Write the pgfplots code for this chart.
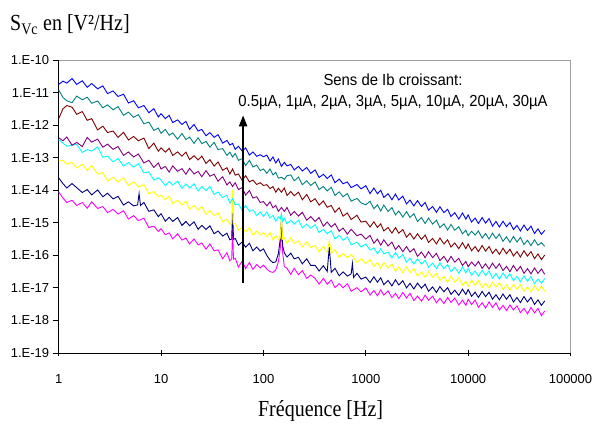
\documentclass[border=0pt]{standalone}
\usepackage{pgfplots}
\pgfplotsset{compat=1.18}
\usetikzlibrary{arrows.meta}
\usepackage{fontspec}
\setmainfont{Liberation Sans}
\newfontfamily\titlefont[FakeStretch=0.87]{Liberation Serif}
\newfontfamily\legfont[FakeStretch=0.93]{Liberation Sans}
\definecolor{cblue}{RGB}{0,0,255}
\definecolor{cteal}{RGB}{0,128,128}
\definecolor{cmaroon}{RGB}{128,0,0}
\definecolor{cpurple}{RGB}{128,0,128}
\definecolor{ccyan}{RGB}{0,255,255}
\definecolor{cyellow}{RGB}{255,255,0}
\definecolor{cnavy}{RGB}{0,0,128}
\definecolor{cmagenta}{RGB}{255,0,255}
\definecolor{frame}{RGB}{160,160,160}
\begin{document}
\begin{tikzpicture}
\useasboundingbox (-58.7bp,-72bp) rectangle (535.3bp,353bp);
\begin{axis}[
  at={(0,0)}, anchor=south west,
  scale only axis, width=511.8bp, height=293bp,
  xmode=log, ymode=log,
  xmin=1, xmax=100000, ymin=1e-19, ymax=1e-10,
  axis x line*=bottom, axis y line*=left,
  axis line style={black, line width=0.8bp},
  xtick={1,10,100,1000,10000,100000},
  xticklabels={1,10,100,1000,10000,100000},
  ytick={1e-19,1e-18,1e-17,1e-16,1e-15,1e-14,1e-13,1e-12,1e-11,1e-10},
  yticklabels={1.E-19,1.E-18,1.E-17,1.E-16,1.E-15,1.E-14,1.E-13,1.E-12,1.E-11,1.E-10},
  xminorticks=false, yminorticks=false,
  major tick length=6bp,
  xtick align=center, ytick align=outside,
  tick style={black, line width=0.8bp},
  ticklabel style={font=\fontsize{13bp}{15bp}\selectfont},
  xticklabel style={yshift=-15bp},
  every axis plot/.append style={line width=0.9bp, mark=none},
  clip=false,
]
\draw[frame, line width=0.9bp] (rel axis cs:0,1) -- (rel axis cs:1,1) -- (rel axis cs:1,0);

% 0.5 uA
\addplot[cmagenta] table[row sep=\\] {
1 8.9e-15\\ 1.1 5.75e-15\\ 1.2 4.2e-15\\ 1.35 4.9e-15\\ 1.5 3.4e-15\\ 1.7 4.2e-15\\ 1.9 2.8e-15\\ 2.1 4.4e-15\\ 2.4 2.75e-15\\ 2.7 3.16e-15\\
3 2.05e-15\\ 3.4 2.6e-15\\ 3.8 1.86e-15\\ 4.3 2.35e-15\\ 4.8 1.3e-15\\ 5.4 1.66e-15\\ 6 1.17e-15\\ 6.8 1.38e-15\\ 7.6 7.1e-16\\ 8.5 7.9e-16\\ 9.4 5.4e-16\\
10 6.6e-16\\ 11 4.3e-16\\ 12 4.9e-16\\ 13 3.2e-16\\ 14.5 4.6e-16\\ 16 2.95e-16\\ 17.5 3.4e-16\\ 19 2.24e-16\\ 21 3.2e-16\\ 23 2.1e-16\\ 25 2.4e-16\\
27.5 1.55e-16\\ 30 2.24e-16\\ 33 1.38e-16\\ 36 1.48e-16\\ 40 7.9e-17\\ 44 1.2e-16\\ 47 6.8e-17\\ 49 7.9e-17\\ 50 6.3e-16\\ 51 7.6e-17\\ 53 8.1e-17\\
57 4.4e-17\\ 62 6.6e-17\\ 67 3.9e-17\\ 73 6.0e-17\\ 79 3.7e-17\\ 86 5.2e-17\\ 93 4.1e-17\\ 100 5.0e-17\\ 108 3.8e-17\\ 116 3.16e-17\\ 124 3.0e-17\\
132 3.55e-17\\ 140 6.3e-17\\ 146 1.58e-16\\ 150 1.0e-15\\ 154 1.26e-16\\ 160 4.5e-17\\ 170 4.0e-17\\ 185 2.6e-17\\ 200 4.0e-17\\ 220 2.55e-17\\
240 3.4e-17\\ 265 1.95e-17\\ 290 2.5e-17\\ 320 1.95e-17\\ 350 1.3e-17\\ 385 1.95e-17\\ 420 1.3e-17\\ 460 1.74e-17\\ 500 1.02e-17\\ 550 1.35e-17\\
600 1.0e-17\\ 660 1.35e-17\\ 720 7.9e-18\\ 820 1.02e-17\\ 900 7.6e-18\\ 1000 1.0e-17\\ 1100 6.0e-18\\ 1200 8.3e-18\\ 1300 5.75e-18\\ 1400 8.7e-18\\
1500 6.0e-18\\ 1650 8.1e-18\\ 1800 5.0e-18\\ 1950 6.8e-18\\ 2100 4.7e-18\\ 2300 7.2e-18\\ 2500 4.9e-18\\ 2700 6.8e-18\\ 2950 4.1e-18\\ 3200 5.6e-18\\
3500 3.9e-18\\ 3800 6.0e-18\\ 4100 4.2e-18\\ 4500 5.6e-18\\ 4900 3.5e-18\\ 5300 4.8e-18\\ 5800 3.3e-18\\ 6300 5.1e-18\\ 6800 3.55e-18\\ 7400 4.9e-18\\
8100 3.0e-18\\ 8800 4.2e-18\\ 9500 2.9e-18\\ 10000 4.5e-18\\ 10800 3.1e-18\\ 11700 4.2e-18\\ 12600 2.55e-18\\ 13700 3.5e-18\\ 14800 2.4e-18\\
16000 3.7e-18\\ 17300 2.5e-18\\ 18700 3.5e-18\\ 20200 2.1e-18\\ 21900 2.9e-18\\ 23700 2.0e-18\\ 25600 3.0e-18\\ 27700 2.1e-18\\ 30000 2.8e-18\\
32400 1.74e-18\\ 35100 2.35e-18\\ 38000 1.6e-18\\ 41100 2.5e-18\\ 44500 1.7e-18\\ 48100 2.35e-18\\ 52000 1.4e-18\\ 56000 1.95e-18\\
};

% 1 uA
\addplot[cnavy] table[row sep=\\] {
1 2.4e-14\\ 1.1 1.6e-14\\ 1.2 1.17e-14\\ 1.35 1.6e-14\\ 1.5 1.2e-14\\ 1.7 8.5e-15\\ 1.9 1.05e-14\\ 2.1 7.2e-15\\ 2.4 1.02e-14\\ 2.7 6.3e-15\\
3 8.1e-15\\ 3.4 5.4e-15\\ 3.8 6.5e-15\\ 4.3 3.5e-15\\ 4.8 4.4e-15\\ 5.4 3.3e-15\\ 5.9 3.55e-15\\ 6.1 7.9e-15\\ 6.3 3.4e-15\\ 6.8 4.2e-15\\
7.6 2.24e-15\\ 8.5 2.5e-15\\ 9.4 1.55e-15\\ 10 1.9e-15\\ 11 1.12e-15\\ 12 1.48e-15\\ 13 1.1e-15\\ 14.5 1.45e-15\\ 16 8.3e-16\\ 17.5 1.1e-15\\
19 8.1e-16\\ 21 1.07e-15\\ 23 6.3e-16\\ 25 8.3e-16\\ 27.5 6.2e-16\\ 30 8.1e-16\\ 33 4.6e-16\\ 36 5.6e-16\\ 40 3.9e-16\\ 44 4.8e-16\\ 47 3.0e-16\\
49 3.16e-16\\ 50 3.16e-15\\ 51 3.1e-16\\ 53 3.3e-16\\ 57 2.05e-16\\ 62 2.55e-16\\ 67 1.78e-16\\ 73 2.35e-16\\ 79 1.38e-16\\ 86 1.8e-16\\ 93 1.35e-16\\
100 1.58e-16\\ 108 1.0e-16\\ 116 7.1e-17\\ 124 6.0e-17\\ 132 6.3e-17\\ 140 1.12e-16\\ 146 3.16e-16\\ 150 1.26e-15\\ 154 2.0e-16\\ 160 1.2e-16\\
170 8.9e-17\\ 185 1.17e-16\\ 200 7.8e-17\\ 220 8.7e-17\\ 240 5.5e-17\\ 265 7.8e-17\\ 290 4.9e-17\\ 320 4.9e-17\\ 350 3.3e-17\\ 385 4.8e-17\\
420 3.2e-17\\ 440 1.78e-16\\ 460 3.0e-17\\ 500 4.0e-17\\ 550 2.35e-17\\ 600 3.1e-17\\ 660 2.3e-17\\ 720 2.7e-17\\ 740 5.6e-17\\ 760 2.1e-17\\
820 2.8e-17\\ 900 1.86e-17\\ 1000 2.15e-17\\ 1100 1.45e-17\\ 1200 2.2e-17\\ 1300 1.5e-17\\ 1400 2.05e-17\\ 1500 1.26e-17\\ 1650 1.7e-17\\
1800 1.15e-17\\ 1950 1.78e-17\\ 2100 1.23e-17\\ 2300 1.66e-17\\ 2500 1.0e-17\\ 2700 1.38e-17\\ 2950 9.3e-18\\ 3200 1.4e-17\\ 3500 9.8e-18\\
3800 1.3e-17\\ 4100 7.9e-18\\ 4500 1.07e-17\\ 4900 7.2e-18\\ 5300 1.1e-17\\ 5800 7.6e-18\\ 6300 1.02e-17\\ 6800 6.3e-18\\ 7400 8.5e-18\\
8100 5.9e-18\\ 8800 9.1e-18\\ 9500 6.3e-18\\ 10000 8.9e-18\\ 10800 5.5e-18\\ 11700 7.4e-18\\ 12600 5.1e-18\\ 13700 7.8e-18\\ 14800 5.4e-18\\
16000 7.4e-18\\ 17300 4.5e-18\\ 18700 6.2e-18\\ 20200 4.3e-18\\ 21900 6.5e-18\\ 23700 4.5e-18\\ 25600 6.2e-18\\ 27700 3.7e-18\\ 30000 5.1e-18\\
32400 3.55e-18\\ 35100 5.4e-18\\ 38000 3.7e-18\\ 41100 5.1e-18\\ 44500 3.1e-18\\ 48100 4.3e-18\\ 52000 2.9e-18\\ 56000 4.0e-18\\
};

% 2 uA
\addplot[cyellow] table[row sep=\\] {
1 7.9e-14\\ 1.1 8.3e-14\\ 1.2 6.3e-14\\ 1.35 7.2e-14\\ 1.5 4.8e-14\\ 1.7 6.3e-14\\ 1.9 4.1e-14\\ 2.1 5.75e-14\\ 2.4 3.1e-14\\ 2.7 3.5e-14\\
3 1.9e-14\\ 3.4 2.5e-14\\ 3.8 1.8e-14\\ 4.3 2.4e-14\\ 4.8 1.4e-14\\ 5.4 1.8e-14\\ 6 1.26e-14\\ 6.8 1.48e-14\\ 7.6 7.8e-15\\ 8.5 9.1e-15\\ 9.4 6.3e-15\\
10 7.1e-15\\ 11 5.1e-15\\ 12 6.6e-15\\ 13 3.9e-15\\ 14.5 4.9e-15\\ 16 3.55e-15\\ 17.5 4.6e-15\\ 19 2.6e-15\\ 21 3.4e-15\\ 23 2.45e-15\\ 25 3.16e-15\\
27.5 1.8e-15\\ 30 2.35e-15\\ 33 1.66e-15\\ 36 2.0e-15\\ 40 1.07e-15\\ 44 1.3e-15\\ 47 9.1e-16\\ 49 9.5e-16\\ 50 1.0e-14\\ 51 8.9e-16\\ 53 9.8e-16\\
57 6.0e-16\\ 62 7.2e-16\\ 67 5.2e-16\\ 73 7.1e-16\\ 79 4.2e-16\\ 86 5.6e-16\\ 93 4.2e-16\\ 100 5.0e-16\\ 108 3.8e-16\\ 116 5.0e-16\\ 124 3.0e-16\\
132 4.1e-16\\ 140 3.0e-16\\ 146 3.3e-16\\ 150 1.78e-15\\ 154 3.16e-16\\ 160 3.5e-16\\ 170 2.35e-16\\ 185 3.5e-16\\ 200 2.35e-16\\ 220 2.75e-16\\
240 1.8e-16\\ 265 2.6e-16\\ 290 1.74e-16\\ 320 2.0e-16\\ 350 1.3e-16\\ 385 1.9e-16\\ 420 1.26e-16\\ 440 2.8e-16\\ 460 1.15e-16\\ 500 1.5e-16\\
550 8.7e-17\\ 600 1.15e-16\\ 660 8.3e-17\\ 720 1.07e-16\\ 820 6.0e-17\\ 900 7.9e-17\\ 1000 5.6e-17\\ 1100 7.4e-17\\ 1200 4.5e-17\\ 1300 6.0e-17\\
1400 4.0e-17\\ 1500 6.0e-17\\ 1650 4.1e-17\\ 1800 5.4e-17\\ 1950 3.2e-17\\ 2100 4.4e-17\\ 2300 2.95e-17\\ 2500 4.4e-17\\ 2700 2.95e-17\\ 2950 3.9e-17\\
3200 2.3e-17\\ 3500 3.1e-17\\ 3800 2.1e-17\\ 4100 3.16e-17\\ 4500 2.1e-17\\ 4900 2.8e-17\\ 5300 1.7e-17\\ 5800 2.24e-17\\ 6300 1.5e-17\\ 6800 2.3e-17\\
7400 1.5e-17\\ 8100 2.05e-17\\ 8800 1.23e-17\\ 9500 1.6e-17\\ 10000 1.12e-17\\ 10800 1.74e-17\\ 11700 1.2e-17\\ 12600 1.66e-17\\ 13700 1.02e-17\\
14800 1.4e-17\\ 16000 9.8e-18\\ 17300 1.5e-17\\ 18700 1.05e-17\\ 20200 1.45e-17\\ 21900 8.9e-18\\ 23700 1.23e-17\\ 25600 8.5e-18\\ 27700 1.3e-17\\
30000 9.1e-18\\ 32400 1.26e-17\\ 35100 7.8e-18\\ 38000 1.07e-17\\ 41100 7.6e-18\\ 44500 1.17e-17\\ 48100 8.1e-18\\ 52000 1.12e-17\\ 56000 7.8e-18\\
};

% 3 uA
\addplot[ccyan] table[row sep=\\] {
1 3.55e-13\\ 1.1 2.8e-13\\ 1.2 2.24e-13\\ 1.35 2.45e-13\\ 1.5 2.55e-13\\ 1.7 1.45e-13\\ 1.9 1.78e-13\\ 2.1 1.58e-13\\ 2.4 2.15e-13\\ 2.7 1.02e-13\\
3 1.12e-13\\ 3.4 7.4e-14\\ 3.8 9.5e-14\\ 4.3 5.5e-14\\ 4.8 7.1e-14\\ 5.4 5.1e-14\\ 6 6.6e-14\\ 6.8 3.4e-14\\ 7.6 3.7e-14\\ 8.5 2.05e-14\\ 9.4 2.4e-14\\
10 2.05e-14\\ 11 1.38e-14\\ 12 1.86e-14\\ 13 1.45e-14\\ 14.5 1.9e-14\\ 16 1.15e-14\\ 17.5 1.55e-14\\ 19 1.17e-14\\ 21 1.58e-14\\ 23 9.5e-15\\ 25 1.3e-14\\
27.5 9.8e-15\\ 30 1.3e-14\\ 33 7.4e-15\\ 36 8.9e-15\\ 40 6.0e-15\\ 44 7.1e-15\\ 47 4.0e-15\\ 50 5.5e-15\\ 53 3.6e-15\\ 57 3.8e-15\\ 62 2.4e-15\\
67 3.4e-15\\ 73 2.24e-15\\ 79 2.5e-15\\ 86 1.66e-15\\ 93 2.15e-15\\ 100 1.58e-15\\ 108 2.15e-15\\ 116 1.4e-15\\ 124 1.7e-15\\ 132 1.12e-15\\
140 1.5e-15\\ 146 1.3e-15\\ 150 1.9e-15\\ 154 1.12e-15\\ 160 1.38e-15\\ 170 9.3e-16\\ 185 1.2e-15\\ 200 9.1e-16\\ 220 1.2e-15\\ 240 7.1e-16\\
265 9.1e-16\\ 290 6.8e-16\\ 320 8.7e-16\\ 350 5.0e-16\\ 385 6.2e-16\\ 420 4.6e-16\\ 460 5.75e-16\\ 500 3.2e-16\\ 550 4.1e-16\\ 600 2.9e-16\\
660 3.7e-16\\ 720 2.1e-16\\ 820 2.55e-16\\ 900 1.8e-16\\ 1000 2.24e-16\\ 1100 1.45e-16\\ 1200 1.7e-16\\ 1300 1.12e-16\\ 1400 1.6e-16\\ 1500 1.1e-16\\
1650 1.26e-16\\ 1800 8.3e-17\\ 1950 1.23e-16\\ 2100 8.1e-17\\ 2300 1.07e-16\\ 2500 6.2e-17\\ 2700 8.1e-17\\ 2950 5.4e-17\\ 3200 7.8e-17\\ 3500 5.4e-17\\
3800 7.1e-17\\ 4100 4.3e-17\\ 4500 5.75e-17\\ 4900 3.9e-17\\ 5300 5.9e-17\\ 5800 3.9e-17\\ 6300 5.2e-17\\ 6800 3.16e-17\\ 7400 4.3e-17\\ 8100 2.8e-17\\
8800 4.4e-17\\ 9500 2.9e-17\\ 10000 4.0e-17\\ 10800 2.45e-17\\ 11700 3.3e-17\\ 12600 2.3e-17\\ 13700 3.5e-17\\ 14800 2.4e-17\\ 16000 3.3e-17\\
17300 2.0e-17\\ 18700 2.75e-17\\ 20200 1.86e-17\\ 21900 2.9e-17\\ 23700 2.0e-17\\ 25600 2.7e-17\\ 27700 1.66e-17\\ 30000 2.24e-17\\ 32400 1.55e-17\\
35100 2.35e-17\\ 38000 1.6e-17\\ 41100 2.24e-17\\ 44500 1.35e-17\\ 48100 1.86e-17\\ 52000 1.4e-17\\ 56000 1.95e-17\\
};

% 5 uA
\addplot[cpurple] table[row sep=\\] {
1 4.1e-13\\ 1.1 3.3e-13\\ 1.2 4.3e-13\\ 1.35 2.4e-13\\ 1.5 2.95e-13\\ 1.7 2.2e-13\\ 1.9 4.2e-13\\ 2.1 3.0e-13\\ 2.4 3.7e-13\\ 2.7 2.1e-13\\
3 2.6e-13\\ 3.4 1.8e-13\\ 3.8 2.2e-13\\ 4.3 1.17e-13\\ 4.8 1.5e-13\\ 5.4 1.05e-13\\ 6 1.3e-13\\ 6.8 6.9e-14\\ 7.6 8.3e-14\\ 8.5 5.0e-14\\ 9.4 6.9e-14\\
10 4.5e-14\\ 11 5.4e-14\\ 12 3.6e-14\\ 13 5.6e-14\\ 14.5 3.8e-14\\ 16 4.6e-14\\ 17.5 3.1e-14\\ 19 4.7e-14\\ 21 3.16e-14\\ 23 3.8e-14\\ 25 2.6e-14\\
27.5 4.0e-14\\ 30 2.7e-14\\ 33 3.1e-14\\ 36 1.9e-14\\ 40 2.6e-14\\ 44 1.45e-14\\ 47 1.8e-14\\ 50 1.3e-14\\ 53 1.7e-14\\ 57 1.05e-14\\ 62 1.2e-14\\
67 7.1e-15\\ 73 9.8e-15\\ 79 5.75e-15\\ 86 6.3e-15\\ 93 4.2e-15\\ 100 4.5e-15\\ 108 3.3e-15\\ 116 4.4e-15\\ 124 2.9e-15\\ 132 3.4e-15\\ 140 2.24e-15\\
150 2.95e-15\\ 160 2.24e-15\\ 170 2.95e-15\\ 185 1.7e-15\\ 200 2.24e-15\\ 220 1.6e-15\\ 240 2.1e-15\\ 265 1.2e-15\\ 290 1.55e-15\\ 320 1.1e-15\\
350 1.45e-15\\ 385 7.9e-16\\ 420 1.05e-15\\ 460 7.4e-16\\ 500 9.5e-16\\ 550 5.5e-16\\ 600 6.9e-16\\ 660 4.5e-16\\ 720 6.3e-16\\ 820 4.0e-16\\
900 4.5e-16\\ 1000 3.16e-16\\ 1100 4.1e-16\\ 1200 2.35e-16\\ 1300 3.16e-16\\ 1400 2.05e-16\\ 1500 3.0e-16\\ 1650 1.95e-16\\ 1800 2.55e-16\\
1950 1.5e-16\\ 2100 2.0e-16\\ 2300 1.3e-16\\ 2500 1.86e-16\\ 2700 1.26e-16\\ 2950 1.6e-16\\ 3200 9.3e-17\\ 3500 1.26e-16\\ 3800 8.5e-17\\
4100 1.3e-16\\ 4500 8.5e-17\\ 4900 1.15e-16\\ 5300 6.9e-17\\ 5800 9.3e-17\\ 6300 6.2e-17\\ 6800 9.3e-17\\ 7400 6.2e-17\\ 8100 8.1e-17\\
8800 4.9e-17\\ 9500 6.5e-17\\ 10000 4.5e-17\\ 10800 6.2e-17\\ 11700 4.7e-17\\ 12600 6.5e-17\\ 13700 4.0e-17\\ 14800 5.5e-17\\ 16000 3.8e-17\\
17300 5.75e-17\\ 18700 4.0e-17\\ 20200 5.5e-17\\ 21900 3.4e-17\\ 23700 4.6e-17\\ 25600 3.16e-17\\ 27700 4.9e-17\\ 30000 3.3e-17\\ 32400 4.6e-17\\
35100 2.8e-17\\ 38000 3.9e-17\\ 41100 2.7e-17\\ 44500 4.1e-17\\ 48100 2.8e-17\\ 52000 3.8e-17\\ 56000 2.6e-17\\
};

% 10 uA
\addplot[cmaroon] table[row sep=\\] {
1 1.58e-12\\ 1.1 3.16e-12\\ 1.2 4.0e-12\\ 1.35 3.55e-12\\ 1.5 2.15e-12\\ 1.7 2.6e-12\\ 1.9 1.4e-12\\ 2.1 1.58e-12\\ 2.4 7.1e-13\\ 2.7 9.3e-13\\
3 5.9e-13\\ 3.4 6.6e-13\\ 3.8 4.2e-13\\ 4.3 6.0e-13\\ 4.8 3.5e-13\\ 5.4 4.5e-13\\ 6 3.3e-13\\ 6.8 4.0e-13\\ 7.6 1.9e-13\\ 8.5 2.8e-13\\ 9.4 1.58e-13\\
10 2.0e-13\\ 11 1.48e-13\\ 12 1.95e-13\\ 13 1.17e-13\\ 14.5 1.5e-13\\ 16 1.12e-13\\ 17.5 1.48e-13\\ 19 8.7e-14\\ 21 1.15e-13\\ 23 8.5e-14\\ 25 1.12e-13\\
27.5 6.6e-14\\ 30 8.7e-14\\ 33 5.5e-14\\ 36 7.4e-14\\ 40 4.1e-14\\ 44 4.9e-14\\ 47 3.16e-14\\ 50 4.5e-14\\ 53 2.9e-14\\ 57 3.16e-14\\ 62 2.0e-14\\
67 2.8e-14\\ 73 1.8e-14\\ 79 2.05e-14\\ 86 1.5e-14\\ 93 1.7e-14\\ 100 1.4e-14\\ 108 1.48e-14\\ 116 1.12e-14\\ 124 1.3e-14\\ 132 8.7e-15\\ 140 1.15e-14\\
150 8.7e-15\\ 160 1.17e-14\\ 170 6.9e-15\\ 185 9.1e-15\\ 200 6.8e-15\\ 220 8.7e-15\\ 240 5.1e-15\\ 265 7.4e-15\\ 290 4.4e-15\\ 320 5.5e-15\\
350 3.5e-15\\ 385 4.7e-15\\ 420 3.0e-15\\ 460 3.4e-15\\ 500 2.1e-15\\ 550 2.9e-15\\ 600 1.6e-15\\ 660 2.0e-15\\ 720 1.26e-15\\ 820 1.7e-15\\
900 1.05e-15\\ 1000 1.12e-15\\ 1100 7.4e-16\\ 1200 1.07e-15\\ 1300 7.2e-16\\ 1400 9.3e-16\\ 1500 5.6e-16\\ 1650 7.2e-16\\ 1800 4.8e-16\\ 1950 7.1e-16\\
2100 4.8e-16\\ 2300 6.2e-16\\ 2500 3.6e-16\\ 2700 4.8e-16\\ 2950 3.16e-16\\ 3200 4.6e-16\\ 3500 3.1e-16\\ 3800 4.2e-16\\ 4100 2.5e-16\\ 4500 3.3e-16\\
4900 2.24e-16\\ 5300 3.4e-16\\ 5800 2.24e-16\\ 6300 3.0e-16\\ 6800 1.8e-16\\ 7400 2.4e-16\\ 8100 1.6e-16\\ 8800 2.45e-16\\ 9500 1.6e-16\\
10000 2.24e-16\\ 10800 1.38e-16\\ 11700 1.86e-16\\ 12600 1.3e-16\\ 13700 2.0e-16\\ 14800 1.35e-16\\ 16000 1.86e-16\\ 17300 1.15e-16\\ 18700 1.55e-16\\
20200 1.07e-16\\ 21900 1.66e-16\\ 23700 1.12e-16\\ 25600 1.55e-16\\ 27700 9.5e-17\\ 30000 1.3e-16\\ 32400 8.9e-17\\ 35100 1.38e-16\\ 38000 9.5e-17\\
41100 1.3e-16\\ 44500 7.9e-17\\ 48100 1.1e-16\\ 52000 7.4e-17\\ 56000 1.02e-16\\
};

% 20 uA
\addplot[cteal] table[row sep=\\] {
1 1.2e-11\\ 1.1 7.1e-12\\ 1.2 5.6e-12\\ 1.35 4.9e-12\\ 1.5 7.8e-12\\ 1.7 6.0e-12\\ 1.9 7.2e-12\\ 2.1 4.7e-12\\ 2.4 5.5e-12\\ 2.7 3.4e-12\\
3 4.2e-12\\ 3.4 2.95e-12\\ 3.8 3.7e-12\\ 4.3 2.0e-12\\ 4.8 2.5e-12\\ 5.4 1.74e-12\\ 6 2.1e-12\\ 6.8 1.1e-12\\ 7.6 1.23e-12\\ 8.5 6.9e-13\\ 9.4 8.1e-13\\
10 5.6e-13\\ 11 7.4e-13\\ 12 4.9e-13\\ 13 5.75e-13\\ 14.5 3.7e-13\\ 16 5.5e-13\\ 17.5 3.6e-13\\ 19 4.3e-13\\ 21 2.75e-13\\ 23 4.1e-13\\ 25 2.7e-13\\
27.5 3.16e-13\\ 30 2.1e-13\\ 33 2.95e-13\\ 36 1.78e-13\\ 40 1.9e-13\\ 44 1.17e-13\\ 47 1.48e-13\\ 50 1.05e-13\\ 53 1.35e-13\\ 57 8.3e-14\\ 62 9.3e-14\\
67 5.75e-14\\ 73 8.3e-14\\ 79 5.2e-14\\ 86 5.9e-14\\ 93 4.0e-14\\ 100 4.5e-14\\ 108 3.3e-14\\ 116 4.5e-14\\ 124 2.95e-14\\ 132 3.55e-14\\ 140 2.35e-14\\
150 2.5e-14\\ 160 2.15e-14\\ 170 2.8e-14\\ 185 2.95e-14\\ 200 1.95e-14\\ 220 2.55e-14\\ 240 1.48e-14\\ 265 1.95e-14\\ 290 1.4e-14\\ 320 1.8e-14\\
350 1.05e-14\\ 385 1.3e-14\\ 420 9.5e-15\\ 460 1.23e-14\\ 500 6.9e-15\\ 550 8.9e-15\\ 600 6.3e-15\\ 660 7.9e-15\\ 720 4.6e-15\\ 820 5.6e-15\\ 900 4.1e-15\\
1000 3.55e-15\\ 1100 4.6e-15\\ 1200 2.7e-15\\ 1300 3.55e-15\\ 1400 2.3e-15\\ 1500 3.5e-15\\ 1650 2.24e-15\\ 1800 2.95e-15\\ 1950 1.74e-15\\ 2100 2.3e-15\\
2300 1.5e-15\\ 2500 2.2e-15\\ 2700 1.45e-15\\ 2950 1.9e-15\\ 3200 1.1e-15\\ 3500 1.45e-15\\ 3800 9.5e-16\\ 4100 1.4e-15\\ 4500 9.1e-16\\ 4900 1.2e-15\\
5300 7.1e-16\\ 5800 9.3e-16\\ 6300 6.0e-16\\ 6800 8.9e-16\\ 7400 5.9e-16\\ 8100 7.6e-16\\ 8800 4.6e-16\\ 9500 5.9e-16\\ 10000 4.0e-16\\ 10800 5.5e-16\\
11700 4.2e-16\\ 12600 5.6e-16\\ 13700 3.4e-16\\ 14800 4.7e-16\\ 16000 3.16e-16\\ 17300 4.8e-16\\ 18700 3.3e-16\\ 20200 4.5e-16\\ 21900 2.7e-16\\
23700 3.7e-16\\ 25600 2.5e-16\\ 27700 3.8e-16\\ 30000 2.55e-16\\ 32400 3.55e-16\\ 35100 2.15e-16\\ 38000 2.9e-16\\ 41100 2.0e-16\\ 44500 3.0e-16\\
48100 2.05e-16\\ 52000 2.45e-16\\ 56000 1.9e-16\\
};

% 30 uA
\addplot[cblue] table[row sep=\\] {
1 1.78e-11\\ 1.1 2.24e-11\\ 1.2 1.95e-11\\ 1.35 2.7e-11\\ 1.5 1.78e-11\\ 1.7 2.3e-11\\ 1.9 1.45e-11\\ 2.1 1.9e-11\\ 2.4 1.3e-11\\ 2.7 1.6e-11\\
3 9.3e-12\\ 3.4 1.12e-11\\ 3.8 7.6e-12\\ 4.3 8.9e-12\\ 4.8 4.8e-12\\ 5.4 5.6e-12\\ 6 3.4e-12\\ 6.8 4.0e-12\\ 7.6 2.4e-12\\ 8.5 3.2e-12\\ 9.4 1.78e-12\\
10 2.24e-12\\ 11 1.58e-12\\ 12 2.0e-12\\ 13 1.2e-12\\ 14.5 1.45e-12\\ 16 1.05e-12\\ 17.5 1.3e-12\\ 19 7.4e-13\\ 21 1.05e-12\\ 23 6.6e-13\\ 25 7.4e-13\\
27.5 4.7e-13\\ 30 5.9e-13\\ 33 4.2e-13\\ 36 5.1e-13\\ 40 2.8e-13\\ 44 3.4e-13\\ 47 2.45e-13\\ 50 2.75e-13\\ 53 1.8e-13\\ 57 2.24e-13\\ 62 1.6e-13\\
67 2.0e-13\\ 73 1.2e-13\\ 79 1.5e-13\\ 86 1.1e-13\\ 93 1.23e-13\\ 100 1.07e-13\\ 108 1.2e-13\\ 116 7.9e-14\\ 124 1.05e-13\\ 132 6.9e-14\\ 140 9.1e-14\\
150 5.4e-14\\ 160 7.2e-14\\ 170 5.6e-14\\ 185 6.2e-14\\ 200 4.2e-14\\ 220 5.4e-14\\ 240 3.9e-14\\ 265 5.0e-14\\ 290 3.3e-14\\ 320 4.2e-14\\ 350 2.45e-14\\
385 3.1e-14\\ 420 2.3e-14\\ 460 2.95e-14\\ 500 1.7e-14\\ 550 2.2e-14\\ 600 1.58e-14\\ 660 1.8e-14\\ 720 1.2e-14\\ 820 1.5e-14\\ 900 1.1e-14\\
1000 1.38e-14\\ 1100 7.9e-15\\ 1200 1.17e-14\\ 1300 7.8e-15\\ 1400 1.0e-14\\ 1500 6.0e-15\\ 1650 7.8e-15\\ 1800 5.1e-15\\ 1950 7.6e-15\\ 2100 5.0e-15\\
2300 6.6e-15\\ 2500 3.8e-15\\ 2700 5.0e-15\\ 2950 3.3e-15\\ 3200 4.8e-15\\ 3500 3.16e-15\\ 3800 4.2e-15\\ 4100 2.45e-15\\ 4500 3.16e-15\\ 4900 2.1e-15\\
5300 3.1e-15\\ 5800 2.05e-15\\ 6300 2.6e-15\\ 6800 1.55e-15\\ 7400 2.05e-15\\ 8100 1.3e-15\\ 8800 2.0e-15\\ 9500 1.3e-15\\ 10000 1.74e-15\\ 10800 1.05e-15\\
11700 1.4e-15\\ 12600 9.5e-16\\ 13700 1.45e-15\\ 14800 9.8e-16\\ 16000 1.35e-15\\ 17300 7.9e-16\\ 18700 1.1e-15\\ 20200 7.4e-16\\ 21900 1.12e-15\\
23700 7.6e-16\\ 25600 1.02e-15\\ 27700 6.2e-16\\ 30000 8.3e-16\\ 32400 5.6e-16\\ 35100 8.5e-16\\ 38000 5.8e-16\\ 41100 7.9e-16\\ 44500 4.7e-16\\
48100 6.5e-16\\ 52000 4.4e-16\\ 56000 5.9e-16\\
};

\draw[black, line width=2bp, -{Triangle[length=11bp,width=8bp]}] (axis cs:63.3,1.45e-17) -- (axis cs:63.3,2e-12);
\end{axis}
\node[anchor=base west, inner sep=0pt, font=\titlefont\fontsize{23bp}{26bp}\selectfont] at (-48.7bp,322bp) {S\textsubscript{Vc} en [V²/Hz]};
\node[anchor=base, inner sep=0pt, font=\titlefont\fontsize{23bp}{26bp}\selectfont] at (261.9bp,-63bp) {Fréquence [Hz]};
\node[anchor=base, inner sep=0pt, font=\legfont\fontsize{16bp}{18bp}\selectfont] at (334.3bp,267bp) {Sens de Ib croissant:};
\node[anchor=base, inner sep=0pt, font=\legfont\fontsize{16bp}{18bp}\selectfont] at (334.3bp,246bp) {0.5µA, 1µA, 2µA, 3µA, 5µA, 10µA, 20µA, 30µA};
\end{tikzpicture}
\end{document}
